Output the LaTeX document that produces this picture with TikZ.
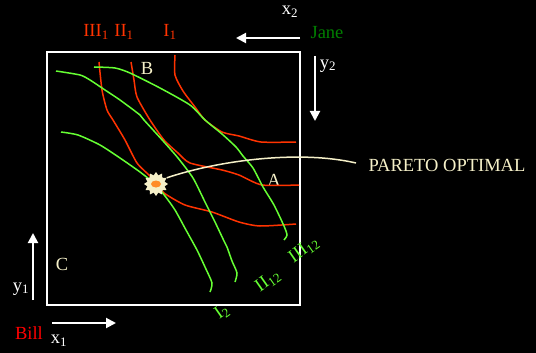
\documentclass[tikz,border=0pt]{standalone}
\usepackage{fontspec}
\setmainfont{Liberation Serif}
\usetikzlibrary{shapes, arrows.meta, positioning, calc}
\definecolor{red1}{RGB}{255, 51, 0}
\definecolor{green1}{RGB}{102, 255, 51}
\definecolor{green2}{RGB}{0, 128, 0}
\definecolor{cream1}{RGB}{245, 240, 200}
\definecolor{orange1}{RGB}{255, 140, 40}

\tikzset{
  lbl/.style={font=\fontsize{18.5}{20}\selectfont, inner sep=0pt},
  redcurve/.style={red1, line width=1.5pt, smooth, tension=0.4},
  greencurve/.style={green1, line width=1.5pt, smooth, tension=0.4},
  axisarrow/.style={white, line width=2pt, -{Triangle[length=10pt, width=10pt]}},
  tilted/.style={lbl, green1, rotate=35}
}

\begin{document}
\begin{tikzpicture}[x=1pt, y=-1pt]
  \fill[black] (0,0) rectangle (536,353);
  \useasboundingbox (0,0) rectangle (536,353);

  % Edgeworth box
  \draw[white, line width=2pt] (47,52) rectangle (300,305);

  % axis names and arrows
  \node[lbl, white] (xtwo) at (290,12) {x\textsubscript{2}};
  \node[lbl, green2] (jane) at (327,33) {Jane};
  \coordinate (janefrom) at (300,38);
  \coordinate (janeto) at (236,38);
  \draw[axisarrow] (janefrom) -- (janeto);
  \node[lbl, white] (ytwo) at (328,66) {y\textsubscript{2}};
  \coordinate (ytwofrom) at (315,56);
  \coordinate (ytwoto) at (315,121);
  \draw[axisarrow] (ytwofrom) -- (ytwoto);

  \node[lbl, white] (yone) at (21,289) {y\textsubscript{1}};
  \coordinate (yonefrom) at (33,300);
  \coordinate (yoneto) at (33,233);
  \draw[axisarrow] (yonefrom) -- (yoneto);
  \node[lbl, red] (bill) at (29,333) {Bill};
  \node[lbl, white] (xone) at (59,341) {x\textsubscript{1}};
  \coordinate (xonefrom) at (52,323);
  \coordinate (xoneto) at (116,323);
  \draw[axisarrow] (xonefrom) -- (xoneto);

  % corner points
  \node[lbl, cream1] (ptB) at (147,68) {B};
  \node[lbl, cream1] (ptA) at (274,180) {A};
  \node[lbl, cream1] (ptC) at (62,264) {C};

  % Bill's indifference curves
  \node[lbl, red1] (bthree) at (96,32) {III\textsubscript{1}};
  \node[lbl, red1] (btwo) at (124,32) {II\textsubscript{1}};
  \node[lbl, red1] (bone) at (170,32) {I\textsubscript{1}};
  \draw[redcurve] plot coordinates {(175,55) (175,75) (183,91) (195,107) (205,120) (222,132) (239,136) (261,142) (296,142)};
  \draw[redcurve] plot coordinates {(131,62) (134,80) (137,97) (150,120) (164,140) (178,153) (190,163) (222,170) (239,175) (262,185) (299,185)};
  \draw[redcurve] plot coordinates {(99,62) (102,90) (107,110) (113,120) (125,140) (137,163) (150,176) (157,184) (164,193) (185,205) (212,212) (239,222) (260,226) (296,224)};

  % Jane's indifference curves
  \draw[greencurve] plot coordinates {(94,67) (115,68) (130,73) (160,88) (190,105) (205,120) (222,134) (236,147) (243,156) (253,168) (263,187) (274,205) (284,226) (287,235) (284,240)};
  \draw[greencurve] plot coordinates {(56,71) (80,75) (90,80) (105,90) (120,100) (140,115) (144,120) (164,142) (178,158) (193,178) (205,202) (215,222) (224,241) (227,247) (232,261) (237,273) (235,282)};
  \draw[greencurve] plot coordinates {(61,132) (78,135) (100,145) (120,158) (140,172) (155,184) (165,196) (175,210) (186,230) (197,250) (205,267) (212,283) (210,292)};
  \node[tilted] (jthree) at (304,250) {III\textsubscript{12}};
  \node[tilted] (jtwo) at (268,281) {II\textsubscript{12}};
  \node[tilted] (jone) at (222,312) {I\textsubscript{2}};

  % Pareto optimal point
  \node[star, star points=12, star point ratio=1.35, minimum size=24pt, inner sep=0pt, fill=cream1] (star) at (156,184) {};
  \fill[orange1] (star.center) ellipse (5pt and 3.5pt);
  \node[lbl, cream1] (pareto) at (447,165) {PARETO OPTIMAL};
  \coordinate (paretoend) at (356,163);
  \draw[cream1, line width=1.5pt] (star.30) .. controls (220,160) and (300,150) .. (paretoend);
\end{tikzpicture}
\end{document}
